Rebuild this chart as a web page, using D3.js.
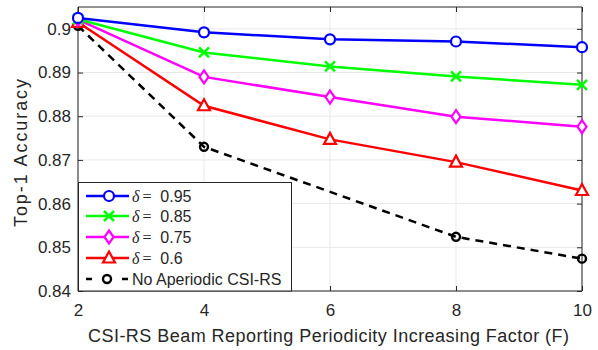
<!DOCTYPE html>
<html>
<head>
<meta charset="utf-8">
<script src="https://cdn.jsdelivr.net/npm/d3@7"></script>
<style>
  body { margin: 0; background: #fff; }
  text { font-family: "Liberation Sans", Arial, sans-serif; fill: #262626; }
</style>
</head>
<body>
<div id="chart"></div>
<script>
// data
const factors = [2, 4, 6, 8, 10];
const delta95 = [0.9025, 0.8992, 0.8976, 0.8971, 0.8958];
const delta85 = [0.9022, 0.8946, 0.8914, 0.8891, 0.8872];
const delta75 = [0.9021, 0.8890, 0.8844, 0.8799, 0.8776];
const delta60 = [0.9015, 0.8824, 0.8747, 0.8695, 0.8630];
const noAperFactors = [2, 4, 8, 10];
const noAperiodic = [0.9007, 0.8730, 0.8524, 0.8474];
const yTicks = [0.84, 0.85, 0.86, 0.87, 0.88, 0.89, 0.9];
const xTicks = [2, 4, 6, 8, 10];
const seriesNames = ['0.95', '0.85', '0.75', '0.6'];

let width = 598,
    height = 350,
    margin = {top: 7, right: 16, bottom: 59, left: 78},
    pw = width - margin.left - margin.right,
    ph = height - margin.top - margin.bottom,
    axisCol = '#262626';

let svg = d3.select('#chart').append('svg')
    .attr('width', width)
    .attr('height', height);

let x = d3.scaleLinear().domain([2, 10]).range([0, pw]);
let y = d3.scaleLinear().domain([0.84, 0.905]).range([ph, 0]);

let g = svg.append('g')
    .attr('transform', 'translate(' + margin.left + ',' + margin.top + ')');

// grid
g.selectAll('line.gx').data(xTicks).enter().append('line')
    .attr('x1', d => x(d)).attr('x2', d => x(d))
    .attr('y1', 0).attr('y2', ph)
    .style('stroke', '#e8e8e8').style('stroke-width', 1);
g.selectAll('line.gy').data(yTicks).enter().append('line')
    .attr('x1', 0).attr('x2', pw)
    .attr('y1', d => y(d)).attr('y2', d => y(d))
    .style('stroke', '#e8e8e8').style('stroke-width', 1);

// axes with inward ticks (box on)
let fmtY = d => String(+d.toFixed(2));
let axB = g.append('g').attr('transform', 'translate(0,' + ph + ')')
    .call(d3.axisBottom(x).tickValues(xTicks).tickSizeInner(-5).tickSizeOuter(0).tickPadding(13));
let axL = g.append('g')
    .call(d3.axisLeft(y).tickValues(yTicks).tickFormat(fmtY).tickSizeInner(-5).tickSizeOuter(0).tickPadding(7));
let axT = g.append('g')
    .call(d3.axisTop(x).tickValues(xTicks).tickFormat('').tickSizeInner(-5).tickSizeOuter(0));
let axR = g.append('g').attr('transform', 'translate(' + pw + ',0)')
    .call(d3.axisRight(y).tickValues(yTicks).tickFormat('').tickSizeInner(-5).tickSizeOuter(0));
[axB, axL, axT, axR].forEach(a => {
    a.selectAll('path').style('stroke', axisCol).style('stroke-width', 1);
    a.selectAll('line').style('stroke', axisCol);
    a.selectAll('text').style('font-size', '17px').style('fill', axisCol)
        .style('font-family', '"Liberation Sans", Arial, sans-serif');
});
axB.selectAll('path').attr('d', 'M0,0H' + pw);
axT.selectAll('path').attr('d', 'M0,0H' + pw);
axL.selectAll('path').attr('d', 'M0,0V' + ph);
axR.selectAll('path').attr('d', 'M0,0V' + ph);

// axis labels
svg.append('text')
    .attr('x', 88).attr('y', 342)
    .attr('textLength', 481).attr('lengthAdjust', 'spacing')
    .style('font-size', '18px')
    .text('CSI-RS Beam Reporting Periodicity Increasing Factor (F)');
svg.append('text')
    .attr('transform', 'translate(27,227) rotate(-90)')
    .attr('textLength', 148).attr('lengthAdjust', 'spacing')
    .style('font-size', '18px')
    .text('Top-1 Accuracy');

// marker shapes
let drawMarker = (sel, type, color, cx, cy) => {
    if (type === 'circle') {
        sel.append('circle').attr('cx', cx).attr('cy', cy).attr('r', 5)
            .style('fill', '#fff').style('stroke', color).style('stroke-width', 2.2);
    } else if (type === 'smallcircle') {
        sel.append('circle').attr('cx', cx).attr('cy', cy).attr('r', 4)
            .style('fill', 'none').style('stroke', color).style('stroke-width', 2.4);
    } else if (type === 'cross') {
        let s = 5;
        sel.append('path')
            .attr('d', 'M' + (cx - s) + ',' + (cy - s) + 'L' + (cx + s) + ',' + (cy + s) +
                'M' + (cx - s) + ',' + (cy + s) + 'L' + (cx + s) + ',' + (cy - s))
            .style('stroke', color).style('stroke-width', 2.5).style('fill', 'none');
    } else if (type === 'diamond') {
        sel.append('path')
            .attr('d', 'M' + cx + ',' + (cy - 6.5) + 'L' + (cx + 4.5) + ',' + cy +
                'L' + cx + ',' + (cy + 6.5) + 'L' + (cx - 4.5) + ',' + cy + 'Z')
            .style('fill', '#fff').style('stroke', color).style('stroke-width', 2.2);
    } else if (type === 'triangle') {
        sel.append('path')
            .attr('d', 'M' + cx + ',' + (cy - 6.5) + 'L' + (cx + 6) + ',' + (cy + 4.5) +
                'L' + (cx - 6) + ',' + (cy + 4.5) + 'Z')
            .style('fill', '#fff').style('stroke', color).style('stroke-width', 2.2);
    }
};

let series = [
    {xs: factors, ys: delta95, color: '#0000ff', marker: 'circle', dash: null},
    {xs: factors, ys: delta85, color: '#00ff00', marker: 'cross', dash: null},
    {xs: factors, ys: delta75, color: '#ff00ff', marker: 'diamond', dash: null},
    {xs: factors, ys: delta60, color: '#ff0000', marker: 'triangle', dash: null},
    {xs: noAperFactors, ys: noAperiodic, color: '#000000', marker: 'smallcircle', dash: '8,6'}
];

let line = d3.line().x(d => x(d[0])).y(d => y(d[1]));

// draw black first so the coloured lines sit on top
let order = [4, 3, 2, 1, 0];
order.forEach(k => {
    let s = series[k];
    let pts = s.xs.map((v, i) => [v, s.ys[i]]);
    let sg = g.append('g');
    sg.append('path').datum(pts).attr('d', line)
        .style('fill', 'none').style('stroke', s.color).style('stroke-width', 2.5)
        .style('stroke-dasharray', s.dash);
    pts.forEach(p => drawMarker(sg, s.marker, s.color, x(p[0]), y(p[1])));
});

// legend
let lg = svg.append('g');
lg.append('rect')
    .attr('x', margin.left + 0.5).attr('y', 182.5)
    .attr('width', 213).attr('height', margin.top + ph - 182.5)
    .style('fill', '#fff').style('stroke', axisCol).style('stroke-width', 1);
let rowsY = [196, 216, 237, 258, 279];
series.forEach((s, i) => {
    let ly = rowsY[i];
    lg.append('line').attr('x1', 86).attr('x2', 129).attr('y1', ly).attr('y2', ly)
        .style('stroke', s.color).style('stroke-width', 2.5)
        .style('stroke-dasharray', s.dash ? '6,30' : null);
    drawMarker(lg, s.marker, s.color, s.dash ? 107 : 109, ly);
    let t = lg.append('text').attr('x', 132).attr('y', ly + 6).style('font-size', '16px');
    if (i < 4) {
        t.append('tspan').style('font-family', '"Liberation Serif", serif')
            .style('font-style', 'italic').text('\u03b4');
        t.append('tspan').attr('dx', 3).style('font-family', '"Liberation Serif", serif')
            .text('=');
        t.append('tspan').attr('dx', 0).text('\u00a0 ' + seriesNames[i]);
    } else {
        t.text('No Aperiodic CSI-RS');
    }
});
</script>
</body>
</html>
